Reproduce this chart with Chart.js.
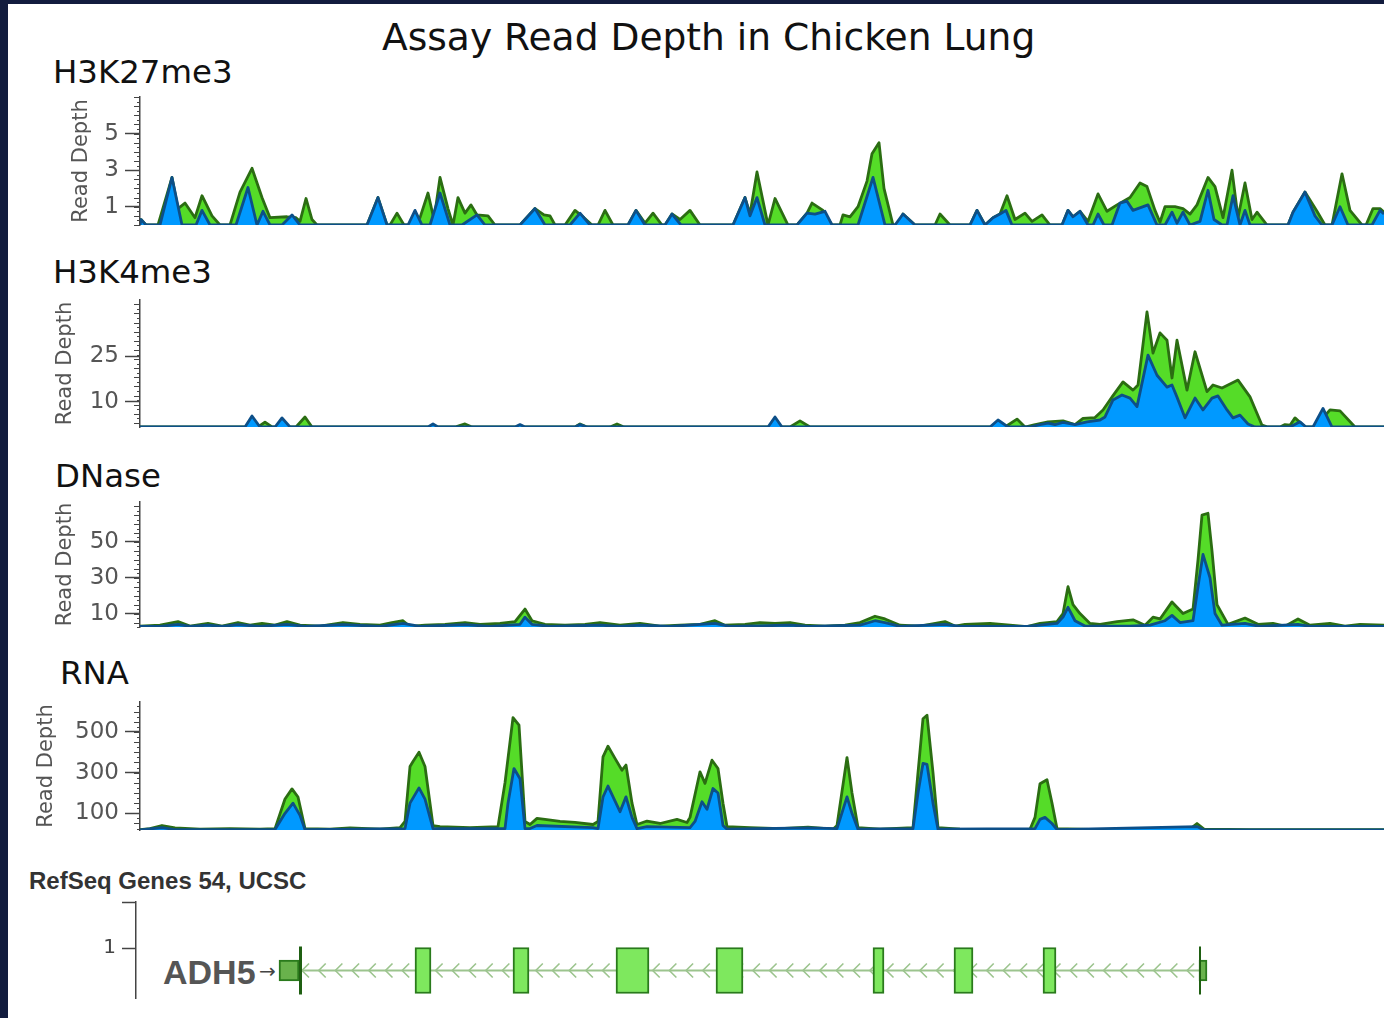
<!DOCTYPE html>
<html lang="en">
<head>
<meta charset="UTF-8">
<title>Assay Read Depth in Chicken Lung</title>
<script src="https://cdn.jsdelivr.net/npm/chart.js"></script>
<style>
  html, body { margin: 0; padding: 0; width: 1384px; height: 1018px; overflow: hidden; background: #121c3e; }
  #page { position: absolute; left: 8px; top: 4px; right: 0; bottom: 0; background: #fff; }
  .box { position: absolute; left: 0; width: 1384px; }
  .txt { position: absolute; white-space: nowrap; line-height: 1; font-family: 'DejaVu Sans'; color: #111; }
  .bold { font-family: 'Liberation Sans'; font-weight: bold; }
</style>
</head>
<body>
<div id="page"></div>

<div class="txt" style="left:382px;top:19px;font-size:37.6px">Assay Read Depth in Chicken Lung</div>
<div class="txt" id="lab0" style="left:53px;top:56px;font-size:32.4px"></div>
<div class="txt" id="lab1" style="left:53px;top:256px;font-size:32.4px"></div>
<div class="txt" id="lab2" style="left:55px;top:460px;font-size:32.4px"></div>
<div class="txt" id="lab3" style="left:60px;top:657px;font-size:32.4px"></div>
<div class="txt bold" style="left:29px;top:869px;font-size:24px;color:#333">RefSeq Genes 54, UCSC</div>
<div class="txt bold" id="geneName" style="left:163px;top:955px;font-size:34px;color:#555"></div>
<div class="txt" style="left:259px;top:961px;font-size:20px;color:#444">&rarr;</div>

<div class="box" style="top:77px;height:168px"><canvas id="c0"></canvas></div>
<div class="box" style="top:280px;height:167px"><canvas id="c1"></canvas></div>
<div class="box" style="top:482px;height:165px"><canvas id="c2"></canvas></div>
<div class="box" style="top:682px;height:168px"><canvas id="c3"></canvas></div>
<div class="box" style="top:882px;height:134px"><canvas id="c4"></canvas></div>

<script>
// track names
var trackNames = ['H3K27me3', 'H3K4me3', 'DNase', 'RNA'];

// [position bin, read depth] - green = total, blue = front series
var k27Green = [
  [0,0],[1,0.3],[6,0],[18,0],[32,2.6],[38,0.9],[45,1.2],[55,0.4],[62,1.6],[72,0.5],[80,0],
  [90,0],[100,1.8],[112,3.1],[122,1.5],[130,0.4],[147,0.45],[156,0.4],[160,0.2],[166,1.45],[172,0.3],[177,0],
  [227,0],[238,1.5],[247,0],[250,0],[257,0.65],[264,0],[270,0],[280,0.4],[288,1.75],[294,0.3],[300,2.6],[308,0.9],
  [313,0],[318,1.5],[325,0.65],[331,1.1],[337,0.55],[348,0.5],[355,0],
  [380,0],[395,0.9],[404,0.55],[410,0.5],[415,0],[425,0],[435,0.8],[444,0.4],[452,0],[458,0],[465,0.8],[473,0],
  [488,0],[496,0.8],[505,0.1],[513,0.65],[522,0],[525,0],[532,0.6],[540,0.3],[550,0.8],[560,0],
  [593,0],[605,1.5],[610,0.6],[617,2.9],[628,0],[635,1.45],[648,0],[657,0],[667,0.65],[672,1.2],[683,0.8],[692,0],
  [700,0],[703,0.55],[710,0.45],[718,1.0],[727,2.4],[732,3.9],[739,4.5],[744,2.0],[753,0],[758,0],[763,0.6],[775,0],
  [795,0],[800,0.6],[810,0],[830,0],[837,0.8],[845,0],[853,0.4],[860,0.6],[867,1.6],[875,0.3],[885,0.65],[892,0.2],
  [902,0.55],[910,0],[922,0],[928,0.8],[933,0.45],[940,0.75],[948,0.2],[958,1.7],[967,0.75],[977,1.1],[990,1.5],
  [1000,2.3],[1007,2.1],[1015,0.8],[1020,0.15],[1025,1.0],[1035,1.0],[1043,0.9],[1050,0.6],[1057,1.1],[1068,2.6],
  [1075,2.1],[1083,0.4],[1092,3.0],[1098,0.4],[1105,2.3],[1112,0.3],[1117,0.7],[1127,0],[1148,0],[1153,0.7],
  [1165,1.8],[1177,0.75],[1185,0],[1192,0],[1202,2.8],[1210,0.8],[1222,0],[1226,0],[1233,0.9],[1240,0.9],[1244,0.7]
];
var k27Blue = [
  [0,0],[1,0.3],[6,0],[20,0],[32,2.6],[42,0],[56,0],[62,0.8],[70,0],[96,0],[108,2.05],[117,0],[123,0.75],[130,0],
  [142,0],[152,0.55],[160,0],[227,0],[238,1.5],[247,0],[268,0],[275,0.8],[282,0],[290,0],[300,1.75],[310,0],
  [322,0],[337,0.55],[345,0],[380,0],[395,0.9],[405,0],[430,0],[440,0.65],[450,0],[488,0],[496,0.8],[505,0],
  [525,0],[532,0.6],[541,0],[593,0],[605,1.5],[610,0.5],[617,1.5],[625,0],[657,0],[667,0.65],[675,0.6],[685,0.75],
  [692,0],[718,0],[733,2.6],[745,0],[755,0],[763,0.6],[775,0],[830,0],[837,0.8],[845,0],[853,0.4],[860,0.6],
  [866,0.8],[872,0],[922,0],[928,0.8],[933,0.45],[940,0.75],[948,0],[953,0],[958,0.6],[964,0],[972,0],[980,1.2],
  [987,1.3],[993,0.8],[1008,1.1],[1017,0],[1025,0],[1032,0.7],[1037,0.1],[1043,0.7],[1050,0],[1060,0.2],
  [1068,1.9],[1074,0.3],[1082,0],[1087,0],[1093,1.6],[1100,0],[1105,0.8],[1110,0],[1148,0],[1153,0.7],[1165,1.8],
  [1175,0.5],[1182,0],[1192,0],[1200,1.0],[1208,0],[1232,0],[1240,0.8],[1244,0.6]
];

var k4Green = [
  [0,1.7],[118,1.7],[125,3.3],[132,1.7],[156,1.7],[165,5],[172,1.7],[315,1.7],[325,2.7],[332,1.7],[435,1.7],
  [440,2.7],[447,1.7],[470,1.7],[477,2.7],[484,1.7],[650,1.7],[660,3.7],[670,1.7],[865,1.7],[877,4.3],[885,1.7],
  [893,2.3],[908,3.4],[923,3.7],[935,2.5],[943,4.5],[955,4.8],[963,7.3],[973,12],[983,16.5],[993,13.8],[998,15.5],
  [1007,39.5],[1013,26],[1020,32.6],[1027,30.2],[1032,17.8],[1037,30.2],[1047,13.8],[1055,26.4],[1067,13.3],
  [1073,15.5],[1082,14.5],[1098,17.1],[1110,11.6],[1122,2.3],[1128,1.7],[1140,1.7],[1145,2.5],[1150,2.3],
  [1155,4.7],[1165,1.7],[1175,1.7],[1190,7.3],[1200,7.0],[1215,1.7],[1244,1.7]
];
var k4Blue = [
  [0,1.7],[105,1.7],[112,5.3],[120,1.7],[135,1.7],[142,4.7],[150,1.7],[288,1.7],[293,2.7],[298,1.7],[375,1.7],
  [380,2.5],[385,1.7],[435,1.7],[440,2.5],[447,1.7],[628,1.7],[635,5],[642,1.7],[850,1.7],[858,4],[868,1.7],
  [890,1.7],[900,2.5],[908,3],[915,2.5],[923,3.2],[935,2.5],[947,3.4],[960,4],[965,5],[973,10.6],[982,12.2],
  [990,11.2],[997,8.4],[1008,25.3],[1017,18.7],[1027,14.8],[1032,15.5],[1037,11.5],[1045,4.7],[1055,11.2],
  [1063,7.3],[1072,11.2],[1078,11.9],[1087,7.3],[1093,4.7],[1100,5.6],[1108,2.7],[1115,1.7],[1150,1.7],
  [1160,3.4],[1166,1.7],[1173,1.7],[1183,7.8],[1192,1.7],[1244,1.7]
];

var dnaseGreen = [
  [0,3],[20,3.5],[38,5.5],[50,3],[68,4.5],[82,3],[98,5],[110,3.5],[122,4.5],[135,3.5],[147,5.5],[160,3.5],
  [180,3],[203,5],[220,4],[240,3.5],[252,5],[263,6],[270,2.8],[285,3.5],[305,4],[325,5],[340,4],[360,4.5],
  [375,5.5],[385,12.5],[392,6],[405,4],[425,3.5],[445,4],[460,5],[480,3.5],[500,4.5],[520,3],[540,3.5],[560,4],
  [575,6],[585,3.5],[605,4],[620,5],[635,4.5],[650,5],[665,3.5],[685,3],[705,3.5],[720,5],[735,8.5],[745,7],
  [760,3.5],[780,3],[805,5.5],[815,3],[825,4],[850,4.5],[870,3.5],[887,2.7],[900,4.5],[917,5.5],[923,10],
  [928,25],[933,15],[940,10],[950,4.5],[960,4],[977,5.5],[993,6.5],[1005,3.5],[1013,8],[1020,7],[1032,16.5],
  [1043,10],[1053,12.5],[1058,40],[1062,65],[1068,66],[1072,45],[1077,15],[1088,4],[1105,7.5],[1118,4],
  [1133,4.5],[1145,3],[1158,7],[1170,3.5],[1190,4.5],[1205,3],[1220,4],[1244,3.5]
];
var dnaseBlue = [
  [0,2.8],[20,2.8],[38,4],[50,2.8],[68,3.5],[82,2.8],[98,3.8],[120,2.8],[147,4],[165,2.8],[203,3.8],[240,2.8],
  [263,4.5],[280,2.8],[325,3.8],[350,2.8],[380,4],[385,8],[392,4],[410,2.8],[460,3.5],[480,2.8],[500,3.5],
  [530,2.8],[575,4.5],[590,2.8],[650,3.5],[670,2.8],[720,3.5],[735,6],[745,5],[760,2.8],[805,4],[820,2.8],
  [887,2.8],[900,3.5],[917,4.5],[923,8],[928,13.5],[935,6],[945,3],[990,3],[1010,3.5],[1025,6],[1032,9],
  [1040,5],[1053,6],[1058,25],[1063,43],[1070,30],[1075,10],[1082,3.5],[1105,4.5],[1120,2.8],[1158,4],
  [1170,2.8],[1244,2.8]
];

var rnaGreen = [
  [0,20],[10,25],[22,40],[35,28],[60,22],[90,25],[120,22],[135,25],[145,170],[152,220],[158,180],[165,25],
  [190,22],[210,28],[240,22],[260,30],[265,60],[270,330],[273,355],[279,400],[285,330],[293,40],[300,35],
  [330,30],[358,35],[365,250],[373,570],[379,533],[385,60],[390,45],[397,75],[405,70],[420,60],[435,55],
  [453,45],[458,60],[463,377],[468,430],[475,370],[482,312],[486,337],[492,150],[497,45],[507,62],[520,50],
  [537,70],[547,55],[550,80],[560,304],[565,247],[572,361],[578,320],[583,150],[587,35],[610,30],[640,25],
  [668,32],[693,22],[697,40],[707,374],[712,200],[718,30],[740,22],[773,30],[778,300],[783,565],[787,582],
  [793,300],[798,30],[820,22],[860,20],[890,22],[895,80],[900,245],[907,265],[912,150],[917,25],[960,20],
  [1050,22],[1057,50],[1064,22],[1110,20],[1244,20]
];
var rnaBlue = [
  [0,18],[22,30],[35,20],[135,20],[145,100],[153,150],[160,90],[165,20],[265,25],[270,150],[279,225],[285,170],
  [293,25],[365,25],[368,150],[374,320],[380,270],[385,25],[390,25],[397,40],[453,30],[458,25],[463,180],
  [468,234],[480,108],[486,181],[492,80],[497,25],[507,35],[550,30],[555,60],[562,157],[567,120],[573,222],
  [578,200],[583,40],[587,22],[668,28],[697,25],[707,181],[712,100],[718,22],[773,25],[778,200],[783,345],
  [787,340],[793,150],[798,22],[895,25],[900,70],[905,80],[912,50],[917,20],[1057,35],[1064,18],[1244,18]
];

// tick labels on each read depth axis
var k27Ticks = [1, 3, 5];
var k4Ticks = [10, 25];
var dnaseTicks = [10, 30, 50];
var rnaTicks = [100, 300, 500];

// gene model (same position bins)
var geneName = 'ADH5';
var geneRow = 0.55;
var intron = [160, 1060];
var exons = [[275,291],[373,389],[476,509],[576,603],[733,744],[814,833],[903,916]];
var utrs = [[139,159],[1059,1067]];
var txEnds = [[159,162],[1059,1061]];

var FONT = 'DejaVu Sans';
Chart.defaults.font.family = FONT;
var axisColor = '#444';

trackNames.forEach(function(n, i) { document.getElementById('lab' + i).textContent = n; });
document.getElementById('geneName').textContent = geneName;

function toXY(arr) {
  return arr.map(function(p) { return {x: p[0], y: p[1]}; });
}

// ruler style small ticks on the y axis
var minorTicks = {
  id: 'minorTicks',
  afterDraw: function(chart, args, opts) {
    if (!opts.step) return;
    var s = chart.scales.y, ctx = chart.ctx;
    ctx.save();
    ctx.strokeStyle = axisColor;
    ctx.lineWidth = 1;
    var k = Math.ceil(s.min / opts.step);
    for (; k * opts.step <= s.max; k++) {
      var y = Math.round(s.getPixelForValue(k * opts.step)) + 0.5;
      var len = (k % 2 === 0) ? 6 : 3;
      ctx.beginPath();
      ctx.moveTo(s.right, y);
      ctx.lineTo(s.right - len, y);
      ctx.stroke();
    }
    ctx.restore();
  }
};

function makeTrack(id, green, blue, yMin, yMax, ticks, minorStep, titlePad) {
  return new Chart(document.getElementById(id), {
    type: 'line',
    data: {
      datasets: [
        { data: toXY(blue), borderColor: '#0d4f88', backgroundColor: '#0099ff', fill: 'start',
          borderWidth: 2.8, pointRadius: 0, tension: 0, borderJoinStyle: 'round' },
        { data: toXY(green), borderColor: '#2b6d12', backgroundColor: '#55dc28', fill: 'start',
          borderWidth: 2.8, pointRadius: 0, tension: 0, borderJoinStyle: 'round' }
      ]
    },
    options: {
      responsive: true,
      maintainAspectRatio: false,
      animation: false,
      layout: { padding: { top: 20, bottom: 20, left: 0, right: 0 } },
      plugins: { legend: { display: false }, tooltip: { enabled: false }, minorTicks: { step: minorStep } },
      scales: {
        x: { type: 'linear', display: false, min: 0, max: 1244 },
        y: {
          min: yMin, max: yMax,
          afterBuildTicks: function(s) { s.ticks = ticks.map(function(v) { return {value: v}; }); },
          afterFit: function(s) { s.width = 140; },
          border: { color: axisColor, width: 1.5 },
          grid: { drawOnChartArea: false, tickLength: 15, tickColor: axisColor, tickWidth: 1.5 },
          ticks: { color: '#555', font: { size: 23 }, padding: 6 },
          title: { display: true, text: 'Read Depth', color: '#555', font: { size: 21 },
                   padding: { top: titlePad, bottom: 0 } }
        }
      }
    },
    plugins: [minorTicks]
  });
}

makeTrack('c0', k27Green, k27Blue, 0, 7, k27Ticks, 0.25, 69);
makeTrack('c1', k4Green, k4Blue, 1.7, 43.4, k4Ticks, 1.5, 53);
makeTrack('c2', dnaseGreen, dnaseBlue, 2.5, 72.3, dnaseTicks, 2.5, 53);
makeTrack('c3', rnaGreen, rnaBlue, 18, 647, rnaTicks, 25, 34);

// chevrons along the intron, pointing left (minus strand)
var chevrons = {
  id: 'chevrons',
  beforeDatasetsDraw: function(chart) {
    var xs = chart.scales.x, ys = chart.scales.y, ctx = chart.ctx;
    var yc = ys.getPixelForValue(geneRow);
    ctx.save();
    ctx.strokeStyle = '#9cc48e';
    ctx.lineWidth = 1.6;
    for (var p = intron[0] + 2; p < intron[1] - 8; p += 16.7) {
      var x = xs.getPixelForValue(p);
      ctx.beginPath();
      ctx.moveTo(x + 7, yc - 7);
      ctx.lineTo(x, yc);
      ctx.lineTo(x + 7, yc + 7);
      ctx.stroke();
    }
    ctx.restore();
  }
};

function rows(list) {
  return list.map(function(r) { return {x: r, y: geneRow}; });
}

new Chart(document.getElementById('c4'), {
  type: 'bar',
  data: {
    datasets: [
      { data: rows(txEnds), backgroundColor: '#1f5f12', barThickness: 48, inflateAmount: 0 },
      { data: rows(utrs), backgroundColor: '#69b24c', borderColor: '#2a7a1c', borderWidth: 2,
        borderSkipped: false, barThickness: 21 },
      { data: rows(exons), backgroundColor: '#7ee85e', borderColor: '#2a7a1c', borderWidth: 2,
        borderSkipped: false, barThickness: 46 },
      { data: rows([intron]), backgroundColor: '#9cc48e', barThickness: 2, inflateAmount: 0 }
    ]
  },
  options: {
    indexAxis: 'y',
    responsive: true,
    maintainAspectRatio: false,
    animation: false,
    layout: { padding: { top: 20, bottom: 14, left: 0, right: 0 } },
    plugins: { legend: { display: false }, tooltip: { enabled: false } },
    scales: {
      x: { type: 'linear', display: false, min: -4, max: 1244 },
      y: {
        type: 'linear', stacked: true, offset: false, min: 0, max: 1.92,
        afterBuildTicks: function(s) { s.ticks = [{value: 1}, {value: 1.92}]; },
        afterFit: function(s) { s.width = 136; },
        border: { color: axisColor, width: 1.5 },
        grid: { offset: false, drawOnChartArea: false, tickLength: 14, tickColor: axisColor, tickWidth: 1.5 },
        ticks: { color: '#444', font: { size: 20 }, padding: 6,
                 callback: function(v) { return v === 1 ? '1' : ''; } }
      }
    }
  },
  plugins: [chevrons]
});
</script>
</body>
</html>
